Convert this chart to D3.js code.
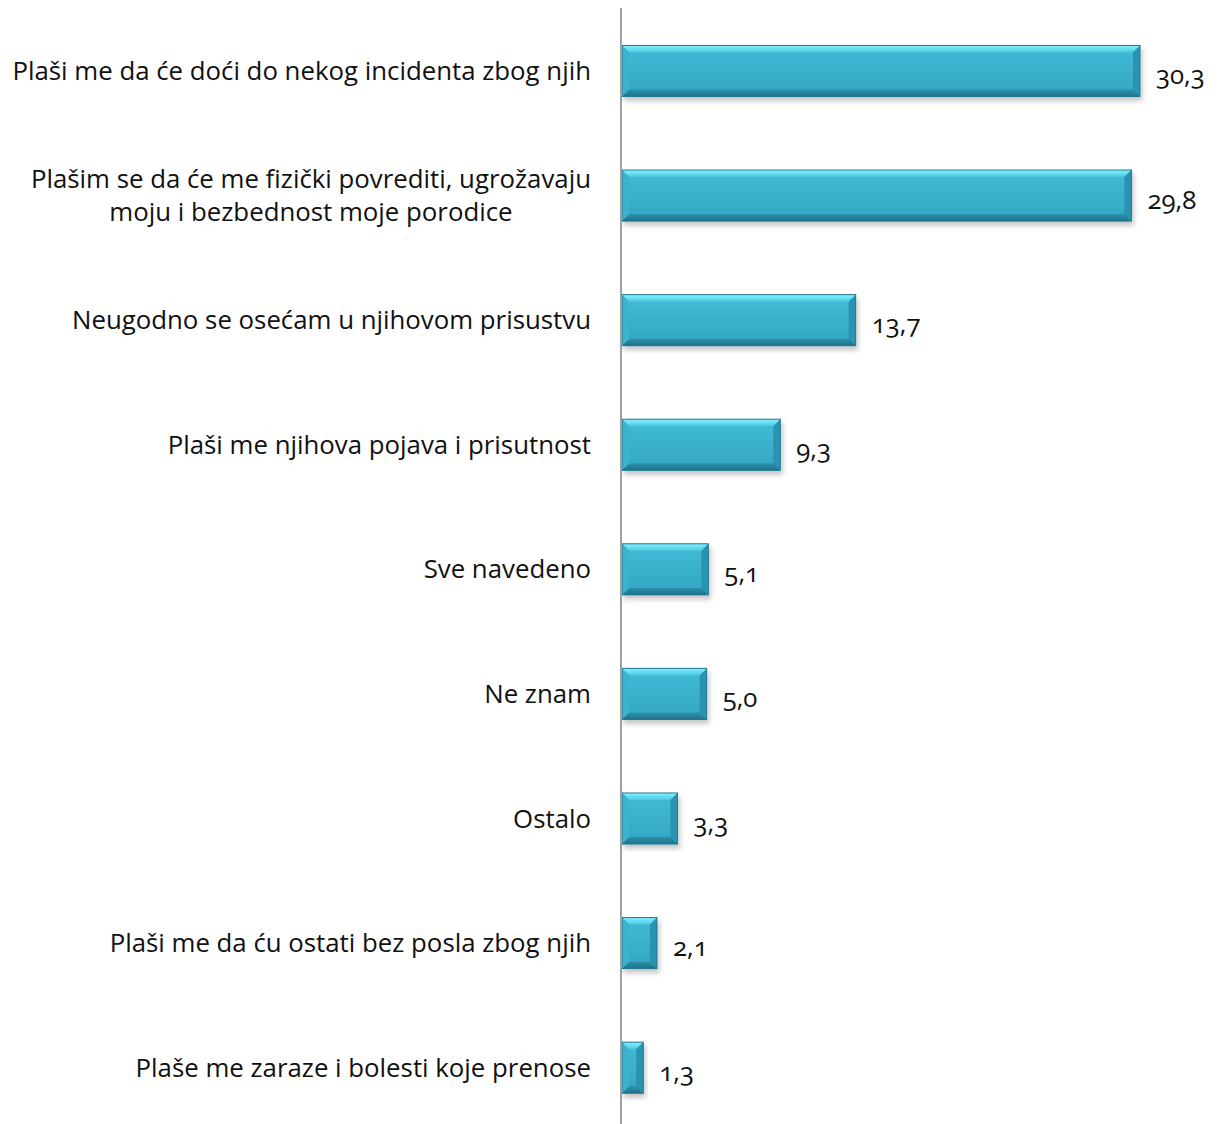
<!DOCTYPE html>
<html>
<head>
<meta charset="utf-8">
<script src="https://cdn.jsdelivr.net/npm/d3@7"></script>
<style>
  body { margin: 0; background: #fff; }
  svg text { font-family: "Open Sans", "Noto Sans", sans-serif; fill: #111; }
  .val { font-variant-numeric: oldstyle-nums; font-feature-settings: "onum" 1; }
</style>
</head>
<body>
<div id="chart"></div>
<script>
// categories, top to bottom (multi-line labels split with |)
const categories = [
    "Plaši me da će doći do nekog incidenta zbog njih",
    "Plašim se da će me fizički povrediti, ugrožavaju|moju i bezbednost moje porodice",
    "Neugodno se osećam u njihovom prisustvu",
    "Plaši me njihova pojava i prisutnost",
    "Sve navedeno",
    "Ne znam",
    "Ostalo",
    "Plaši me da ću ostati bez posla zbog njih",
    "Plaše me zaraze i bolesti koje prenose"
];
const values = [30.3, 29.8, 13.7, 9.3, 5.1, 5.0, 3.3, 2.1, 1.3];
const valueLabels = ["30,3", "29,8", "13,7", "9,3", "5,1", "5,0", "3,3", "2,1", "1,3"];

const width = 1218, height = 1124;
const x0 = 621;
const fontSize = 25.8;

const svg = d3.select("#chart").append("svg")
    .attr("width", width).attr("height", height);

const defs = svg.append("defs");

// body gradient, light at top, darker at bottom
const grad = defs.append("linearGradient").attr("id", "barFill")
    .attr("x1", 0).attr("y1", 0).attr("x2", 0).attr("y2", 1);
grad.append("stop").attr("offset", "0%").attr("stop-color", "#42bcd8");
grad.append("stop").attr("offset", "100%").attr("stop-color", "#33a5c2");

const topGrad = defs.append("linearGradient").attr("id", "topEdge")
    .attr("x1", 0).attr("y1", 0).attr("x2", 0).attr("y2", 1);
topGrad.append("stop").attr("offset", "0%").attr("stop-color", "#86f2ff");
topGrad.append("stop").attr("offset", "100%").attr("stop-color", "#4ac8e2");

const botGrad = defs.append("linearGradient").attr("id", "botEdge")
    .attr("x1", 0).attr("y1", 0).attr("x2", 0).attr("y2", 1);
botGrad.append("stop").attr("offset", "0%").attr("stop-color", "#2d92ac");
botGrad.append("stop").attr("offset", "100%").attr("stop-color", "#1f7089");

const shadow = defs.append("filter").attr("id", "shadow")
    .attr("x", "-10%").attr("y", "-20%").attr("width", "130%").attr("height", "160%");
shadow.append("feDropShadow").attr("dx", 2).attr("dy", 4).attr("stdDeviation", 2.5)
    .attr("flood-color", "#000").attr("flood-opacity", 0.22);

const xScale = d3.scaleLinear().domain([0, 30.3]).range([x0, 1140]);
const yScale = d3.scaleBand().domain(categories).range([8.7, 1130]).paddingInner(0.59).paddingOuter(0.295);

// bars
const bars = svg.append("g").selectAll("g.bar")
    .data(values)
    .join("g")
        .attr("class", "bar")
        .attr("filter", "url(#shadow)");

bars.each(function(d, i) {
    const g = d3.select(this);
    const xa = xScale(0) + 1, xb = xScale(d);
    const ya = yScale(categories[i]), h = yScale.bandwidth(), yb = ya + h;
    const w = xb - xa;
    const b = Math.min(7, w / 2, h / 2);
    g.append("rect").attr("x", xa).attr("y", ya).attr("width", w).attr("height", h)
        .attr("fill", "url(#barFill)");
    // top bevel
    g.append("polygon")
        .attr("points", [[xa, ya], [xb, ya], [xb - b, ya + b], [xa + b, ya + b]].join(" "))
        .attr("fill", "url(#topEdge)");
    // bottom bevel
    g.append("polygon")
        .attr("points", [[xa, yb], [xb, yb], [xb - b, yb - b], [xa + b, yb - b]].join(" "))
        .attr("fill", "url(#botEdge)");
    // left bevel
    g.append("polygon")
        .attr("points", [[xa, ya], [xa + b, ya + b], [xa + b, yb - b], [xa, yb]].join(" "))
        .attr("fill", "#3db2ce");
    // right bevel
    g.append("polygon")
        .attr("points", [[xb, ya], [xb - b, ya + b], [xb - b, yb - b], [xb, yb]].join(" "))
        .attr("fill", "#2b93af");
    g.append("rect").attr("x", xa).attr("y", ya).attr("width", w).attr("height", h)
        .attr("fill", "none").attr("stroke", "#217892").attr("stroke-width", 1);
});

// value labels
svg.append("g").selectAll("text")
    .data(values)
    .join("text")
        .attr("class", "val")
        .attr("x", d => xScale(d) + 16)
        .attr("y", (d, i) => yScale(categories[i]) + yScale.bandwidth() / 2 + 13)
        .attr("font-size", fontSize)
        .text((d, i) => valueLabels[i]);

// vertical axis line
svg.append("line")
    .attr("x1", x0).attr("x2", x0)
    .attr("y1", 8).attr("y2", 1124)
    .attr("stroke", "#a0a0a0").attr("stroke-width", 2);

// category labels: right aligned; extra lines centred under the first one
const labelG = svg.append("g");
categories.forEach(d => {
    const lines = d.split("|");
    const cy = yScale(d) + yScale.bandwidth() / 2;
    const lh = 33;
    const first = labelG.append("text")
        .attr("text-anchor", "end")
        .attr("font-size", fontSize)
        .attr("x", 591)
        .attr("y", cy + 9 - (lines.length - 1) * 16.5)
        .text(lines[0]);
    const w0 = first.node().getComputedTextLength();
    lines.slice(1).forEach((ln, k) => {
        labelG.append("text")
            .attr("text-anchor", "middle")
            .attr("font-size", fontSize)
            .attr("x", 591 - w0 / 2)
            .attr("y", cy + 9 - (lines.length - 1) * 16.5 + (k + 1) * lh)
            .text(ln);
    });
});
</script>
</body>
</html>
